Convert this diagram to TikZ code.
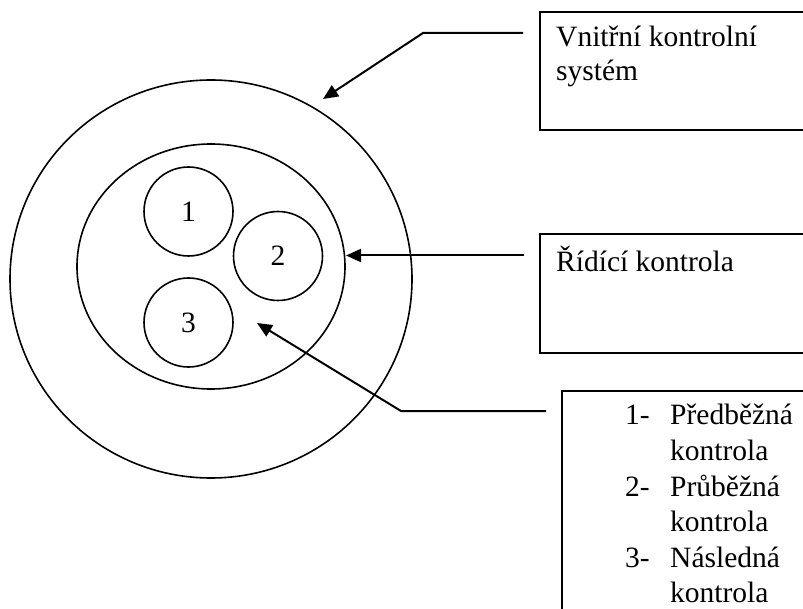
\documentclass[tikz,border=0pt]{standalone}
\usepackage{fontspec}
\setmainfont{Liberation Serif}
\usetikzlibrary{arrows.meta,shapes.geometric}

\tikzset{
  ring/.style={draw, ellipse, line width=1.6pt, inner sep=0pt},
  part/.style={draw, circle, line width=1.6pt, inner sep=0pt, minimum size=89pt,
               font=\fontsize{29.5}{35}\selectfont},
  labelbox/.style={draw, rectangle, line width=2.2pt, inner sep=0pt, anchor=north west},
  boxtext/.style={anchor=base west, inner sep=0pt, font=\fontsize{29.5}{35}\selectfont},
  pointer/.style={line width=2pt, -{Triangle[length=15pt,width=13pt]}}
}

\begin{document}
\begin{tikzpicture}[x=1pt,y=-1pt]
  \useasboundingbox (0,0) rectangle (803,609);
  \clip (0,0) rectangle (803,609);
  \fill[white] (0,0) rectangle (803,609);

  % nested control levels
  \node[ring, minimum width=402pt, minimum height=398pt] (outer) at (211,279) {};
  \node[ring, minimum width=268pt, minimum height=245pt] (inner) at (211,266.5) {};
  \node[part] (p1) at (188.5,211.5) {1};
  \node[part] (p2) at (278,256) {2};
  \node[part] (p3) at (188.5,322.5) {3};

  % legend boxes, running off the right edge
  \node[labelbox, minimum width=290pt, minimum height=118pt] (boxA) at (539,11) {};
  \node[labelbox, minimum width=290pt, minimum height=119pt] (boxB) at (539,233) {};
  \node[labelbox, minimum width=270pt, minimum height=240pt] (boxC) at (561,390) {};

  \node[boxtext] (tA1) at (556,47) {Vnitřní kontrolní};
  \node[boxtext] (tA2) at (556,81) {systém};
  \node[boxtext] (tB1) at (556,272) {Řídící kontrola};

  \node[boxtext] (n1) at (625,424) {1-};
  \node[boxtext] (l1) at (670,424) {Předběžná};
  \node[boxtext] (l1b) at (670,460) {kontrola};
  \node[boxtext] (n2) at (625,496) {2-};
  \node[boxtext] (l2) at (670,496) {Průběžná};
  \node[boxtext] (l2b) at (670,531) {kontrola};
  \node[boxtext] (n3) at (625,567) {3-};
  \node[boxtext] (l3) at (670,567) {Následná};
  \node[boxtext] (l3b) at (670,602) {kontrola};

  % leader arrows
  \coordinate (sA) at (523,33);
  \coordinate (kA) at (423,33);
  \coordinate (eA) at (323,99);
  \draw[pointer] (sA) -- (kA) -- (eA);

  \coordinate (sB) at (524,255.5);
  \coordinate (eB) at (346,255.5);
  \draw[pointer] (sB) -- (eB);

  \coordinate (sC) at (546,411);
  \coordinate (kC) at (401,411);
  \coordinate (eC) at (257,323);
  \draw[pointer] (sC) -- (kC) -- (eC);
\end{tikzpicture}
\end{document}
